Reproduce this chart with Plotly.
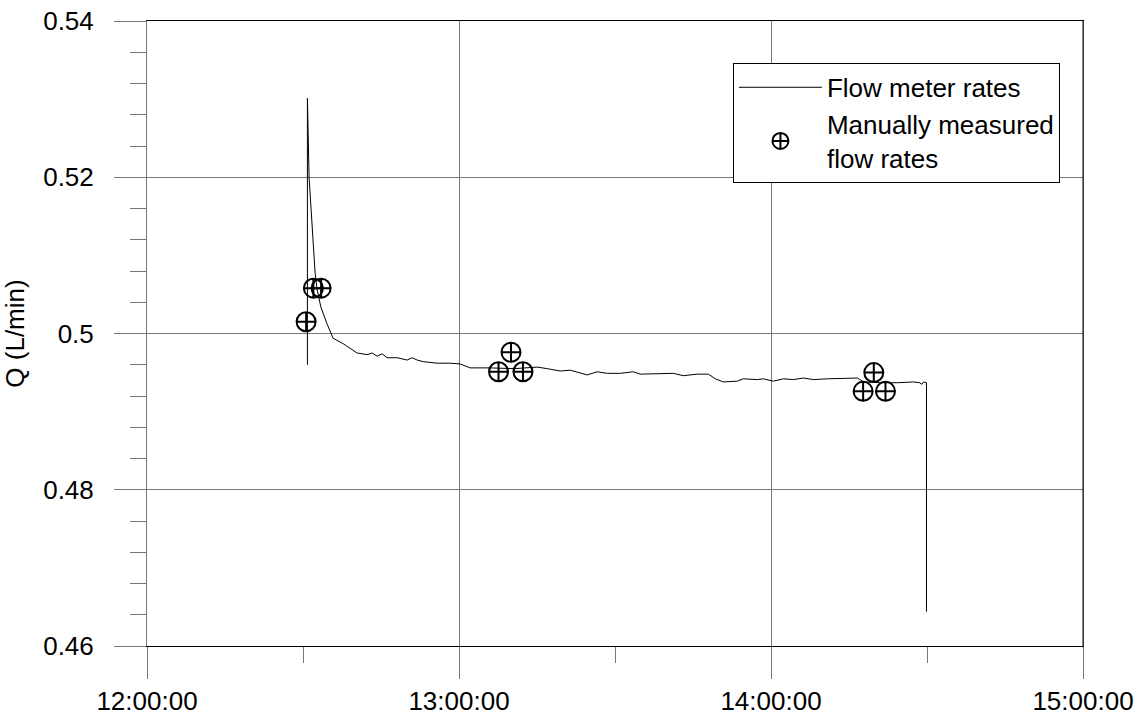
import pandas as pd
import plotly.graph_objects as go

DAY = "2000-01-01 "

# Flow meter record (clock time, Q in L/min)
meter_time = [
    "12:30:51", "12:30:51",
    "12:31:10", "12:31:41", "12:32:20", "12:32:43", "12:33:26",
    "12:34:35", "12:35:13", "12:35:47", "12:37:43", "12:40:25",
    "12:42:20", "12:43:18", "12:44:16", "12:45:13", "12:46:11",
    "12:48:07", "12:50:02", "12:50:59", "12:51:58", "12:53:07",
    "12:55:48", "12:58:19", "13:00:14", "13:02:09", "13:05:26",
    "13:06:00", "13:10:30", "13:15:03", "13:16:58", "13:19:28",
    "13:21:24", "13:23:19", "13:24:40", "13:26:35", "13:28:31",
    "13:31:01", "13:33:31", "13:34:52", "13:38:43", "13:41:13",
    "13:43:08", "13:45:50", "13:47:57", "13:49:18", "13:50:50",
    "13:53:32", "13:54:41", "13:57:23", "13:58:32", "14:00:28",
    "14:02:23", "14:04:19", "14:06:14", "14:08:10", "14:10:51",
    "14:16:38", "14:17:47", "14:21:03", "14:24:19", "14:27:24",
    "14:28:34", "14:29:00", "14:29:20", "14:29:54", "14:29:54",
]
meter_q = [
    0.4960, 0.5301,
    0.5200, 0.5141, 0.5077, 0.5056, 0.5034,
    0.5013, 0.5002, 0.4994, 0.4987, 0.4975,
    0.4973, 0.4975, 0.4971, 0.4974, 0.4969,
    0.4969, 0.4966, 0.4969, 0.4966, 0.4964,
    0.4962, 0.4962, 0.4961, 0.4956, 0.4956,
    0.4956, 0.4955, 0.4957, 0.4955, 0.4952,
    0.4953, 0.4949, 0.4947, 0.4951, 0.4949,
    0.4949, 0.4951, 0.4948, 0.4949, 0.4949,
    0.4946, 0.4948, 0.4948, 0.4942, 0.4938,
    0.4939, 0.4942, 0.4941, 0.4942, 0.4939,
    0.4942, 0.4941, 0.4943, 0.4941, 0.4942,
    0.4943, 0.4938, 0.4937, 0.4937, 0.4938,
    0.4937, 0.4935, 0.4938, 0.4937, 0.4644,
]

# Manual bucket-and-stopwatch checks
manual_time = [
    "12:30:36", "12:32:00", "12:33:29",
    "13:07:36", "13:10:00", "13:12:18",
    "14:17:43", "14:19:46", "14:22:01",
]
manual_q = [
    0.5015, 0.5058, 0.5058,
    0.4951, 0.4976, 0.4951,
    0.4926, 0.4950, 0.4926,
]

x_range = ["12:00:00", "15:00:00"]
y_range = [0.46, 0.54]

to_dt = lambda ts: pd.to_datetime([DAY + t for t in ts])

FONT = "Liberation Sans, Arial, sans-serif"
FS = 26
GRID = "#777777"

fig = go.Figure()
fig.add_trace(go.Scatter(
    x=to_dt(meter_time), y=meter_q, mode="lines",
    line=dict(color="black", width=1),
    name="Flow meter rates",
))
fig.add_trace(go.Scatter(
    x=to_dt(manual_time), y=manual_q, mode="markers",
    marker=dict(symbol="circle-cross-open", size=19, color="black",
                line=dict(color="black", width=2)),
    name="Manually measured<br>flow rates",
))

xr = to_dt(x_range)
fig.update_layout(
    width=1142, height=722,
    margin=dict(l=147, r=59, t=21, b=76, autoexpand=False),
    paper_bgcolor="white", plot_bgcolor="white",
    font=dict(family=FONT, size=FS, color="black"),
    showlegend=True,
    legend=dict(
        x=0.626, y=0.933, xanchor="left", yanchor="top",
        bgcolor="white", bordercolor="black", borderwidth=1,
        font=dict(family=FONT, size=FS, color="black"),
        itemwidth=83, tracegroupgap=4, entrywidth=340,
    ),
    xaxis=dict(
        type="date", range=[xr[0], xr[1]], automargin=False,
        dtick=3600000, tick0=xr[0], tickformat="%H:%M:%S",
        showgrid=True, gridcolor=GRID, gridwidth=1,
        ticks="outside", ticklen=32, tickcolor=GRID, tickwidth=1,
        minor=dict(dtick=1800000, ticks="outside", ticklen=16,
                   tickcolor=GRID, showgrid=False),
        showline=True, linecolor="black", linewidth=1, mirror=True,
        zeroline=False, ticklabelstandoff=0,
        tickfont=dict(size=FS),
    ),
    yaxis=dict(
        range=y_range, dtick=0.02, tick0=0.46, tickformat="~g",
        automargin=False,
        showgrid=True, gridcolor=GRID, gridwidth=1,
        ticks="outside", ticklen=32, tickcolor=GRID, tickwidth=1,
        minor=dict(dtick=0.004, ticks="outside", ticklen=16,
                   tickcolor=GRID, showgrid=False),
        showline=True, linecolor=GRID, linewidth=1, mirror=True,
        zeroline=False, ticklabelstandoff=15,
        title=dict(text="Q (L/min)", font=dict(size=FS), standoff=14),
        tickfont=dict(size=FS),
    ),
)
fig.add_shape(type="line", xref="paper", yref="paper",
              x0=1, x1=1, y0=0, y1=1, line=dict(color="black", width=1))

fig.write_html("out.html")
